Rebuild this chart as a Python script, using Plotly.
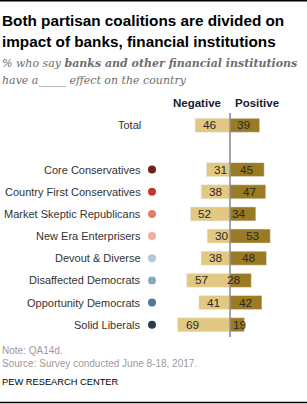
import plotly.graph_objects as go

categories = ["Total", "", "Core Conservatives", "Country First Conservatives",
              "Market Skeptic Republicans", "New Era Enterprisers", "Devout & Diverse",
              "Disaffected Democrats", "Opportunity Democrats", "Solid Liberals"]
negative = [46, None, 31, 38, 52, 30, 38, 57, 41, 69]
positive = [39, None, 45, 47, 34, 53, 48, 28, 42, 19]
dot_colors = [None, None, "#6b241b", "#c43a2a", "#e57c6c", "#f0aaa0",
              "#b4c8dc", "#86a9c4", "#4f7894", "#2b3d4f"]

W, H = 307, 404
T, B = 112, 66
PH = H - T - B
ZERO_PX = 230
PX_PER_UNIT = 0.76


def py(p):
    return (H - B - p) / PH


def px(p):
    return p / W


idx = list(range(len(categories)))
neg_x = [-v if v is not None else None for v in negative]

fig = go.Figure()
fig.add_trace(go.Bar(y=idx, x=neg_x, orientation="h", marker_color="#e2c880",
                     width=0.63, hoverinfo="skip", showlegend=False))
fig.add_trace(go.Bar(y=idx, x=positive, orientation="h", marker_color="#9a7a22",
                     width=0.63, hoverinfo="skip", showlegend=False))

dot_x = (152 - ZERO_PX) / PX_PER_UNIT
dy = [i for i, c in zip(idx, dot_colors) if c]
dc = [c for c in dot_colors if c]
fig.add_trace(go.Scatter(y=dy, x=[dot_x] * len(dy), mode="markers",
                         marker=dict(size=8, color=dc), hoverinfo="skip", showlegend=False))

ann = []
num_font = dict(family="Arial, Liberation Sans", size=11.8, color="#2a2a2a")
lab_font = dict(family="Arial, Liberation Sans", size=11, color="#333333")
for i, (c, n, p) in enumerate(zip(categories, negative, positive)):
    if c:
        ann.append(dict(x=px(143), xref="paper", y=i, yref="y", text=c, showarrow=False,
                        xanchor="right", yanchor="middle", font=lab_font))
    if n is not None:
        ann.append(dict(x=-n, y=i, text=str(n), showarrow=False, xanchor="left",
                        xshift=6, font=num_font))
    if p is not None:
        if p < 25:
            ann.append(dict(x=0, y=i, text=str(p), showarrow=False, xanchor="left",
                            xshift=1, font=num_font))
        else:
            ann.append(dict(x=p, y=i, text=str(p), showarrow=False, xanchor="right",
                            xshift=-8, font=num_font))

hdr_font = dict(family="Arial, Liberation Sans", size=11.5, color="#1a1a33")
ann.append(dict(x=px(197), y=py(103), xref="paper", yref="paper", text="<b>Negative</b>",
                showarrow=False, xanchor="center", yanchor="middle", font=hdr_font))
ann.append(dict(x=px(257), y=py(103), xref="paper", yref="paper", text="<b>Positive</b>",
                showarrow=False, xanchor="center", yanchor="middle", font=hdr_font))

title_font = dict(family="Arial, Liberation Sans", size=15.3, color="#000000")
ann.append(dict(x=0, y=py(20), xref="paper", yref="paper",
                text="<b>Both partisan coalitions are divided on</b>",
                showarrow=False, xanchor="left", yanchor="middle", font=title_font))
ann.append(dict(x=0, y=py(42), xref="paper", yref="paper",
                text="<b>impact of banks, financial institutions</b>",
                showarrow=False, xanchor="left", yanchor="middle", font=title_font))

sub_font = dict(family="DejaVu Serif, Georgia, serif", size=11, color="#6d6d6d")
ann.append(dict(x=0, y=py(63), xref="paper", yref="paper",
                text="<i>% who say <b>banks and other financial institutions</b></i>",
                showarrow=False, xanchor="left", yanchor="middle", font=sub_font))
ann.append(dict(x=0, y=py(80), xref="paper", yref="paper",
                text="<i>have a_____ effect on the country</i>",
                showarrow=False, xanchor="left", yanchor="middle", font=sub_font))

note_font = dict(family="Arial, Liberation Sans", size=10, color="#9a9a9a")
ann.append(dict(x=0, y=py(350), xref="paper", yref="paper", text="Note: QA14d.",
                showarrow=False, xanchor="left", yanchor="middle", font=note_font))
ann.append(dict(x=0, y=py(363), xref="paper", yref="paper",
                text="Source: Survey conducted June 8-18, 2017.",
                showarrow=False, xanchor="left", yanchor="middle", font=note_font))
ann.append(dict(x=0, y=py(382), xref="paper", yref="paper", text="PEW RESEARCH CENTER",
                showarrow=False, xanchor="left", yanchor="middle",
                font=dict(family="Arial, Liberation Sans", size=9.3, color="#000000")))

shapes = [
    dict(type="line", xref="x", yref="paper", x0=0, x1=0, y0=py(337), y1=py(113),
         line=dict(color="#888888", width=1.5)),
    dict(type="line", xref="paper", yref="paper", x0=0, x1=1, y0=py(0.8), y1=py(0.8),
         line=dict(color="#000000", width=1.6)),
    dict(type="line", xref="paper", yref="paper", x0=0, x1=1, y0=py(402.5), y1=py(402.5),
         line=dict(color="#000000", width=1.5)),
]

fig.update_layout(
    width=W, height=H, margin=dict(l=0, r=0, t=T, b=B),
    paper_bgcolor="white", plot_bgcolor="white", barmode="overlay",
    xaxis=dict(range=[-ZERO_PX / PX_PER_UNIT, (W - ZERO_PX) / PX_PER_UNIT],
               visible=False, fixedrange=True),
    yaxis=dict(range=[9.6, -0.6], visible=False, fixedrange=True),
    annotations=ann, shapes=shapes, showlegend=False,
)

fig.write_html("out.html", config={"displayModeBar": False})
